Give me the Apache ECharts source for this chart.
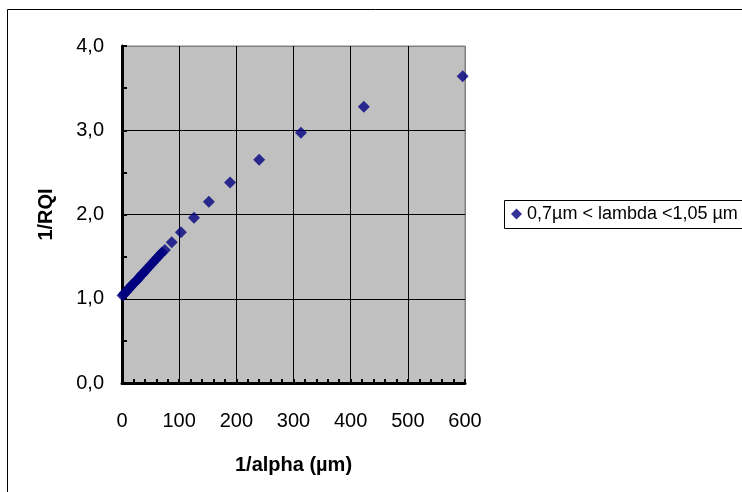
<!DOCTYPE html>
<html>
<head>
<meta charset="utf-8">
<script src="https://cdn.jsdelivr.net/npm/echarts@6/dist/echarts.min.js"></script>
<style>html,body{margin:0;padding:0;background:#fff;}#c{width:742px;height:492px;}</style>
</head>
<body>
<div id="c"></div>
<script>
// Data
var seriesName = '0,7µm < lambda <1,05 µm';
var xValues = [1, 3, 5, 7, 9, 11, 13, 15, 17, 20, 23, 26, 29, 32, 35, 38, 42, 46, 50, 54, 58, 62, 66, 70, 75, 87, 103, 126, 152, 189, 240, 313, 423, 596];
var yValues = [1.04, 1.05, 1.07, 1.08, 1.10, 1.11, 1.13, 1.14, 1.16, 1.18, 1.20, 1.22, 1.24, 1.27, 1.29, 1.31, 1.34, 1.37, 1.40, 1.43, 1.46, 1.49, 1.52, 1.55, 1.58, 1.67, 1.79, 1.96, 2.15, 2.38, 2.65, 2.97, 3.28, 3.64];
var xTitle = '1/alpha (µm)';
var yTitle = '1/RQI';

var points = xValues.map(function (x, i) { return [x, yValues[i]]; });
var font = 'Liberation Sans, Arial, sans-serif';

var chart = echarts.init(document.getElementById('c'), null, {renderer: 'canvas'});
chart.setOption({
  animation: false,
  backgroundColor: '#ffffff',
  graphic: [
    {type: 'rect', shape: {x: 7.5, y: 9.5, width: 800, height: 600}, style: {fill: 'none', stroke: '#000', lineWidth: 1}, z: 0},
    {type: 'rect', shape: {x: 504.5, y: 200.5, width: 300, height: 28}, style: {fill: '#fff', stroke: '#000', lineWidth: 1}, z: 1}
  ],
  grid: {
    left: 122, top: 46, width: 343, height: 337,
    show: true, backgroundColor: '#C0C0C0', borderColor: '#808080', borderWidth: 1
  },
  legend: {
    left: 511, top: 205, padding: 0,
    icon: 'diamond', itemWidth: 11, itemHeight: 11, itemGap: 5,
    textStyle: {fontFamily: font, fontSize: 18, color: '#000'},
    data: [seriesName], z: 5
  },
  xAxis: {
    type: 'value', min: 0, max: 600, interval: 100,
    name: xTitle, nameLocation: 'middle', nameGap: 72,
    nameTextStyle: {fontFamily: font, fontSize: 20, fontWeight: 'bold', color: '#000'},
    axisLine: {show: true, onZero: false, lineStyle: {color: '#000', width: 3}},
    axisTick: {show: true, inside: true, length: 4, lineStyle: {color: '#000', width: 2}},
    minorTick: {show: true, splitNumber: 5, length: 4, lineStyle: {color: '#000', width: 2}},
    axisLabel: {fontFamily: font, fontSize: 20, color: '#000', margin: 28},
    splitLine: {show: true, lineStyle: {color: ['#000', '#000', '#000', '#000', '#000', '#000', '#808080'], width: 1}},
    minorSplitLine: {show: false}
  },
  yAxis: {
    type: 'value', min: 0, max: 4, interval: 1,
    name: yTitle, nameLocation: 'middle', nameGap: 66, nameRotate: 90,
    nameTextStyle: {fontFamily: font, fontSize: 20, fontWeight: 'bold', color: '#000'},
    axisLine: {show: true, onZero: false, lineStyle: {color: '#000', width: 3}},
    axisTick: {show: true, inside: true, length: 5, lineStyle: {color: '#000', width: 2}},
    minorTick: {show: true, splitNumber: 2, length: 5, lineStyle: {color: '#000', width: 2}},
    axisLabel: {fontFamily: font, fontSize: 20, color: '#000', margin: 18,
      formatter: function (v) { return v.toFixed(1).replace('.', ','); }},
    splitLine: {show: true, lineStyle: {color: ['#000', '#000', '#000', '#000', '#808080'], width: 1}},
    minorSplitLine: {show: false}
  },
  series: [{
    name: seriesName,
    type: 'scatter',
    symbol: 'diamond',
    symbolSize: 12,
    itemStyle: {color: '#000080'},
    data: points,
    z: 3
  }]
});
</script>
</body>
</html>
